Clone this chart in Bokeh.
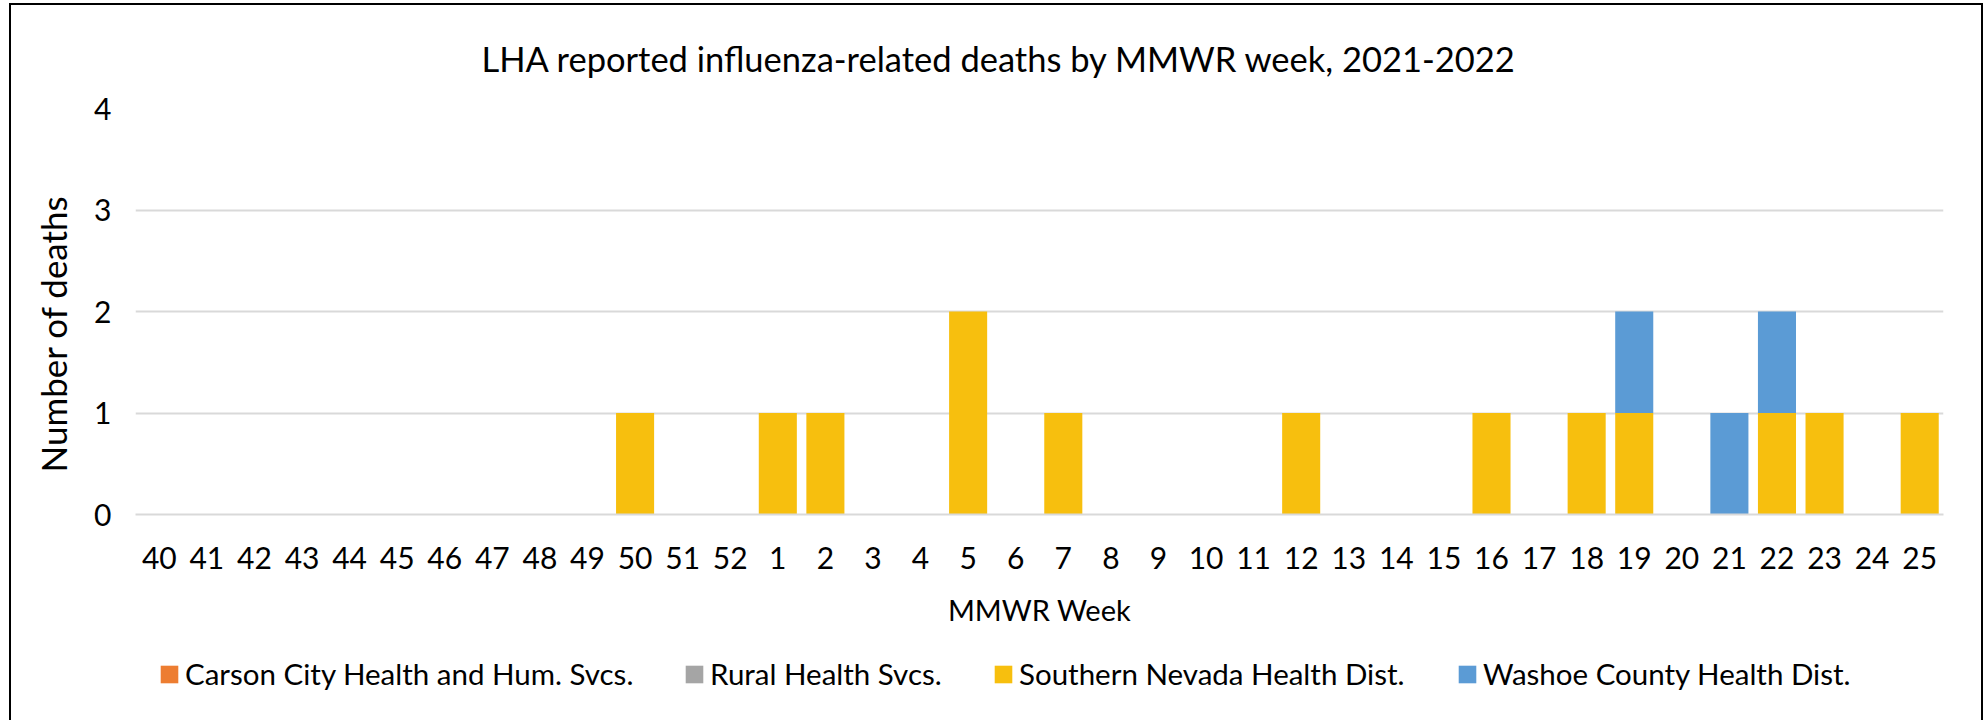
from bokeh.plotting import figure
from bokeh.layouts import column
from bokeh.models import FactorRange, Legend, LegendItem, ColumnDataSource, Range1d, Title
from bokeh.embed import file_html
from bokeh.resources import INLINE

weeks = ["40", "41", "42", "43", "44", "45", "46", "47", "48", "49", "50", "51", "52",
         "1", "2", "3", "4", "5", "6", "7", "8", "9", "10", "11", "12", "13", "14",
         "15", "16", "17", "18", "19", "20", "21", "22", "23", "24", "25"]
carson = [0] * 38
rural = [0] * 38
southern = [0, 0, 0, 0, 0, 0, 0, 0, 0, 0, 1, 0, 0,
            1, 1, 0, 0, 2, 0, 1, 0, 0, 0, 0, 1, 0, 0,
            0, 1, 0, 1, 1, 0, 0, 1, 1, 0, 1]
washoe = [0, 0, 0, 0, 0, 0, 0, 0, 0, 0, 0, 0, 0,
          0, 0, 0, 0, 0, 0, 0, 0, 0, 0, 0, 0, 0, 0,
          0, 0, 0, 0, 1, 0, 1, 1, 0, 0, 0]
series = ["carson", "rural", "southern", "washoe"]
labels = ["Carson City Health and Hum. Svcs.", "Rural Health Svcs.",
          "Southern Nevada Health Dist.", "Washoe County Health Dist."]
colors = ["#ED7D31", "#A5A5A5", "#F7BF0E", "#5B9BD5"]
y_ticks = [0, 1, 2, 3, 4]

FONT = "Lato"
W = 1970
source = ColumnDataSource(dict(weeks=weeks, carson=carson, rural=rural,
                               southern=southern, washoe=washoe))

p = figure(x_range=FactorRange(*weeks), y_range=(0, 4), width=W, height=645,
           output_backend="svg", toolbar_location=None,
           min_border_left=122, min_border_right=38, min_border_top=103, min_border_bottom=136,
           title="LHA reported influenza-related deaths by MMWR week, 2021-2022")

renderers = p.vbar_stack(series, x="weeks", width=0.8, color=colors, source=source,
                         line_color=None)

p.title.text_font = FONT
p.title.text_font_size = "34.5px"
p.title.text_font_style = "normal"
p.title.text_color = "#000000"
p.title.align = "left"
p.title.vertical_align = "top"
p.title.offset = 346
p.title.standoff = 56

p.outline_line_color = None
p.background_fill_color = "white"
p.border_fill_color = "white"

p.xgrid.grid_line_color = None
p.ygrid.grid_line_color = "#D9D9D9"
p.ygrid.grid_line_width = 2
p.yaxis.ticker = y_ticks

for ax in (p.xaxis[0], p.yaxis[0]):
    ax.major_tick_line_color = None
    ax.minor_tick_line_color = None
    ax.major_tick_out = 0
    ax.major_tick_in = 0
    ax.minor_tick_out = 0
    ax.minor_tick_in = 0
    ax.major_label_text_font = FONT
    ax.major_label_text_font_size = "30px"
    ax.major_label_text_color = "#000000"
    ax.axis_label_text_font = FONT
    ax.axis_label_text_font_style = "normal"
    ax.axis_label_text_color = "#000000"

p.xaxis.axis_label_text_font_size = "29px"
p.yaxis.axis_line_color = None
p.xaxis.axis_line_color = "#D9D9D9"
p.xaxis.axis_line_width = 2
p.xaxis.axis_label = "MMWR Week"
p.yaxis.major_label_standoff = 24
p.xaxis.major_label_standoff = 32
p.xaxis.axis_label_standoff = 20
p.x_range.range_padding = 0
p.x_range.group_padding = 0

# y axis title, as a side title so it can sit off-centre like the original
ytitle = Title(text="Number of deaths", align="left", offset=42, standoff=36,
               text_font=FONT, text_font_size="35px", text_font_style="normal",
               text_color="#000000")
p.add_layout(ytitle, "left")

# legend strip below the chart (bars fall outside its y range, only the legend shows)
pl = figure(width=W, height=70, x_range=p.x_range, y_range=Range1d(100, 101),
            output_backend="svg", toolbar_location=None, min_border=0)
pl.axis.visible = False
pl.grid.grid_line_color = None
pl.outline_line_color = None
pl.border_fill_color = "white"
legend_x = [23, 548, 857, 1321]
for name, lab, c, lx in zip(series, labels, colors, legend_x):
    r = pl.vbar(x="weeks", top=name, width=0.8, fill_color=c, line_color=None, source=source)
    lg = Legend(items=[LegendItem(label=lab, renderers=[r])], location=(lx, 29),
                orientation="horizontal", glyph_width=22, glyph_height=22,
                label_standoff=5, padding=0, margin=0, spacing=0,
                border_line_color=None, background_fill_alpha=0,
                label_text_font=FONT, label_text_font_size="29.5px",
                label_text_color="#000000")
    pl.add_layout(lg, "center")

layout = column(p, pl, spacing=0)
layout.styles = {"margin-left": "9px", "margin-top": "3px",
                 "border-left": "2px solid black", "border-top": "2px solid black",
                 "border-right": "2px solid black"}

open("out.html", "w").write(file_html(layout, INLINE))
